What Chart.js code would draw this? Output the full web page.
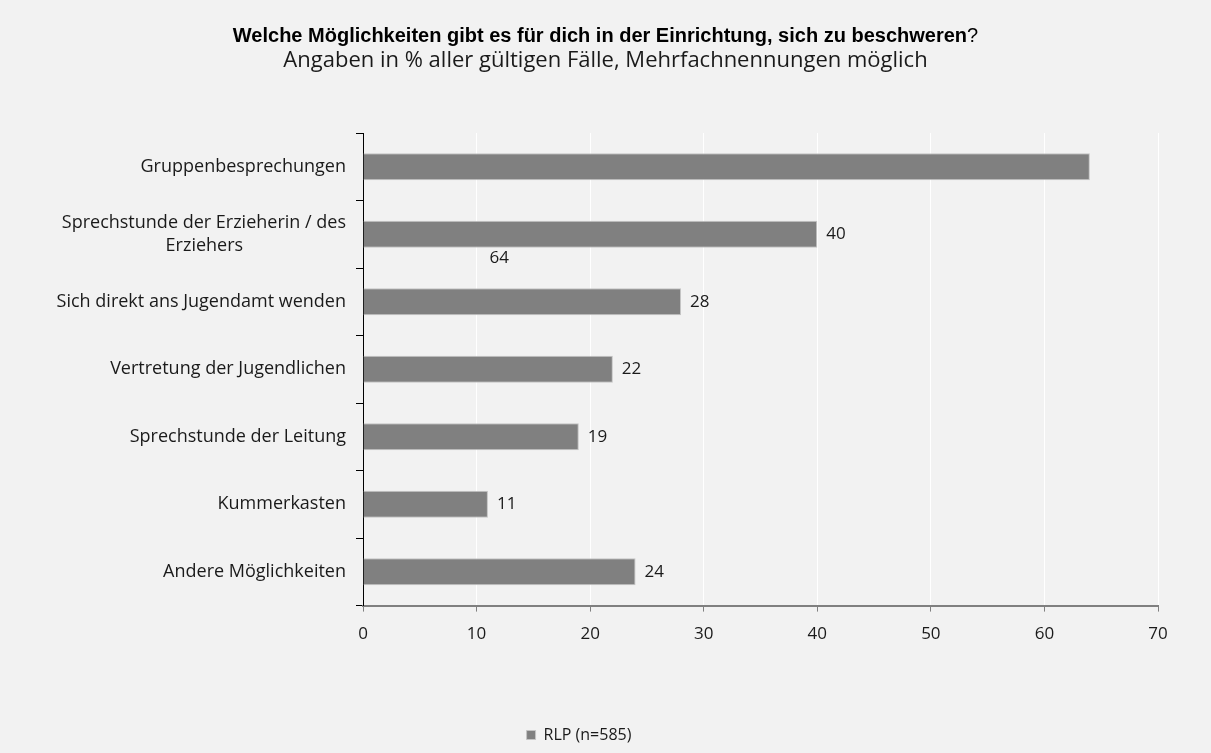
<!DOCTYPE html>
<html>
<head>
<meta charset="utf-8">
<script src="https://cdn.jsdelivr.net/npm/chart.js@4"></script>
<style>
  html, body { margin: 0; padding: 0; background: #f2f2f2; }
  #wrap { width: 1211px; height: 753px; }
</style>
</head>
<body>
<div id="wrap"><canvas id="chart"></canvas></div>
<script>
const categories = [
    "Gruppenbesprechungen",
    ["Sprechstunde der Erzieherin / des", "Erziehers"],
    "Sich direkt ans Jugendamt wenden",
    "Vertretung der Jugendlichen",
    "Sprechstunde der Leitung",
    "Kummerkasten",
    "Andere Möglichkeiten"
];
const values = [64, 40, 28, 22, 19, 11, 24];
const seriesName = "RLP (n=585)";
const xTicks = [0, 10, 20, 30, 40, 50, 60, 70];
const titleBold = "Welche Möglichkeiten gibt es für dich in der Einrichtung, sich zu beschweren";
const titleEnd = "?";
const subtitle = "Angaben in % aller gültigen Fälle, Mehrfachnennungen möglich";

const fam = '"Open Sans", "Liberation Sans", sans-serif';
const labelFont = '17px ' + fam;

// title drawn by hand so the "?" can stay normal weight
const titlePlugin = {
    id: "titleMix",
    afterDraw(chart) {
        let ctx = chart.ctx;
        let cx = chart.width / 2;
        ctx.save();
        ctx.textBaseline = "middle";
        ctx.fillStyle = "#000";
        let fb = 'bold 20px "Liberation Sans", sans-serif';
        let fn = '20px "Liberation Sans", sans-serif';
        ctx.font = fb;
        let w1 = ctx.measureText(titleBold).width;
        ctx.font = fn;
        let w2 = ctx.measureText(titleEnd).width;
        let x0 = cx - (w1 + w2) / 2;
        ctx.textAlign = "left";
        ctx.font = fb;
        ctx.fillText(titleBold, x0, 36);
        ctx.font = fn;
        ctx.fillText(titleEnd, x0 + w1, 36);
        ctx.font = '22px ' + fam;
        ctx.textAlign = "center";
        ctx.fillStyle = "#1a1a1a";
        ctx.fillText(subtitle, cx, 61);
        ctx.restore();
    }
};

// value labels next to the bars; the first one sits lower left, as in the original
const labelPlugin = {
    id: "valueLabels",
    afterDatasetsDraw(chart) {
        let ctx = chart.ctx;
        let meta = chart.getDatasetMeta(0);
        let xs = chart.scales.x, ys = chart.scales.y;
        ctx.save();
        ctx.font = labelFont;
        ctx.fillStyle = "#1a1a1a";
        ctx.textBaseline = "middle";
        meta.data.forEach((bar, i) => {
            if (i === 0) {
                ctx.textAlign = "center";
                ctx.fillText(values[i], xs.getPixelForValue(12), ys.getPixelForValue(1.35));
            } else {
                ctx.textAlign = "left";
                ctx.fillText(values[i], bar.x + 9, bar.y);
            }
        });
        ctx.restore();
    }
};

// center the shorter line of a wrapped label under the longer one
const measureCtx = document.createElement("canvas").getContext("2d");
function centerLines(lbl) {
    if (!Array.isArray(lbl)) return lbl;
    measureCtx.font = '18px ' + fam;
    let widths = lbl.map(s => measureCtx.measureText(s).width);
    let maxW = Math.max(...widths);
    let sp = measureCtx.measureText(" ").width;
    return lbl.map((s, i) => s + " ".repeat(Math.round((maxW - widths[i]) / 2 / sp)));
}

let ctx = document.getElementById("chart");
let chart = new Chart(ctx, {
    type: "bar",
    data: {
        labels: categories,
        datasets: [{
            label: seriesName,
            data: values,
            backgroundColor: "#808080",
            borderColor: "#c4c4c4",
            borderWidth: 1,
            barPercentage: 0.4,
            categoryPercentage: 1.0
        }]
    },
    options: {
        indexAxis: "y",
        responsive: true,
        maintainAspectRatio: false,
        animation: false,
        layout: { padding: { top: 133, right: 53, bottom: 0, left: 0 } },
        scales: {
            x: {
                min: 0, max: 70,
                afterBuildTicks(scale) { scale.ticks = xTicks.map(v => ({ value: v })); },
                afterFit(scale) { scale.height += 61; },
                grid: {
                    color: "#ffffff",
                    lineWidth: 1,
                    tickColor: "#808080",
                    tickLength: 6
                },
                border: { color: "#808080", width: 2 },
                ticks: { color: "#1a1a1a", font: { family: fam, size: 17 }, padding: 12 }
            },
            y: {
                afterFit(scale) { scale.width = 363; },
                grid: {
                    offset: true,
                    drawOnChartArea: false,
                    color: "#000",
                    tickLength: 7
                },
                border: { color: "#000", width: 1 },
                ticks: {
                    color: "#1a1a1a",
                    font: { family: fam, size: 18, lineHeight: 1.25 },
                    padding: 10,
                    callback(value) { return centerLines(this.getLabelForValue(value)); }
                }
            }
        },
        plugins: {
            legend: {
                position: "bottom",
                labels: {
                    boxWidth: 9, boxHeight: 9,
                    color: "#1a1a1a",
                    font: { family: fam, size: 16 },
                    padding: 10
                }
            },
            title: { display: false },
            tooltip: { enabled: false }
        }
    },
    plugins: [titlePlugin, labelPlugin]
});
</script>
</body>
</html>
